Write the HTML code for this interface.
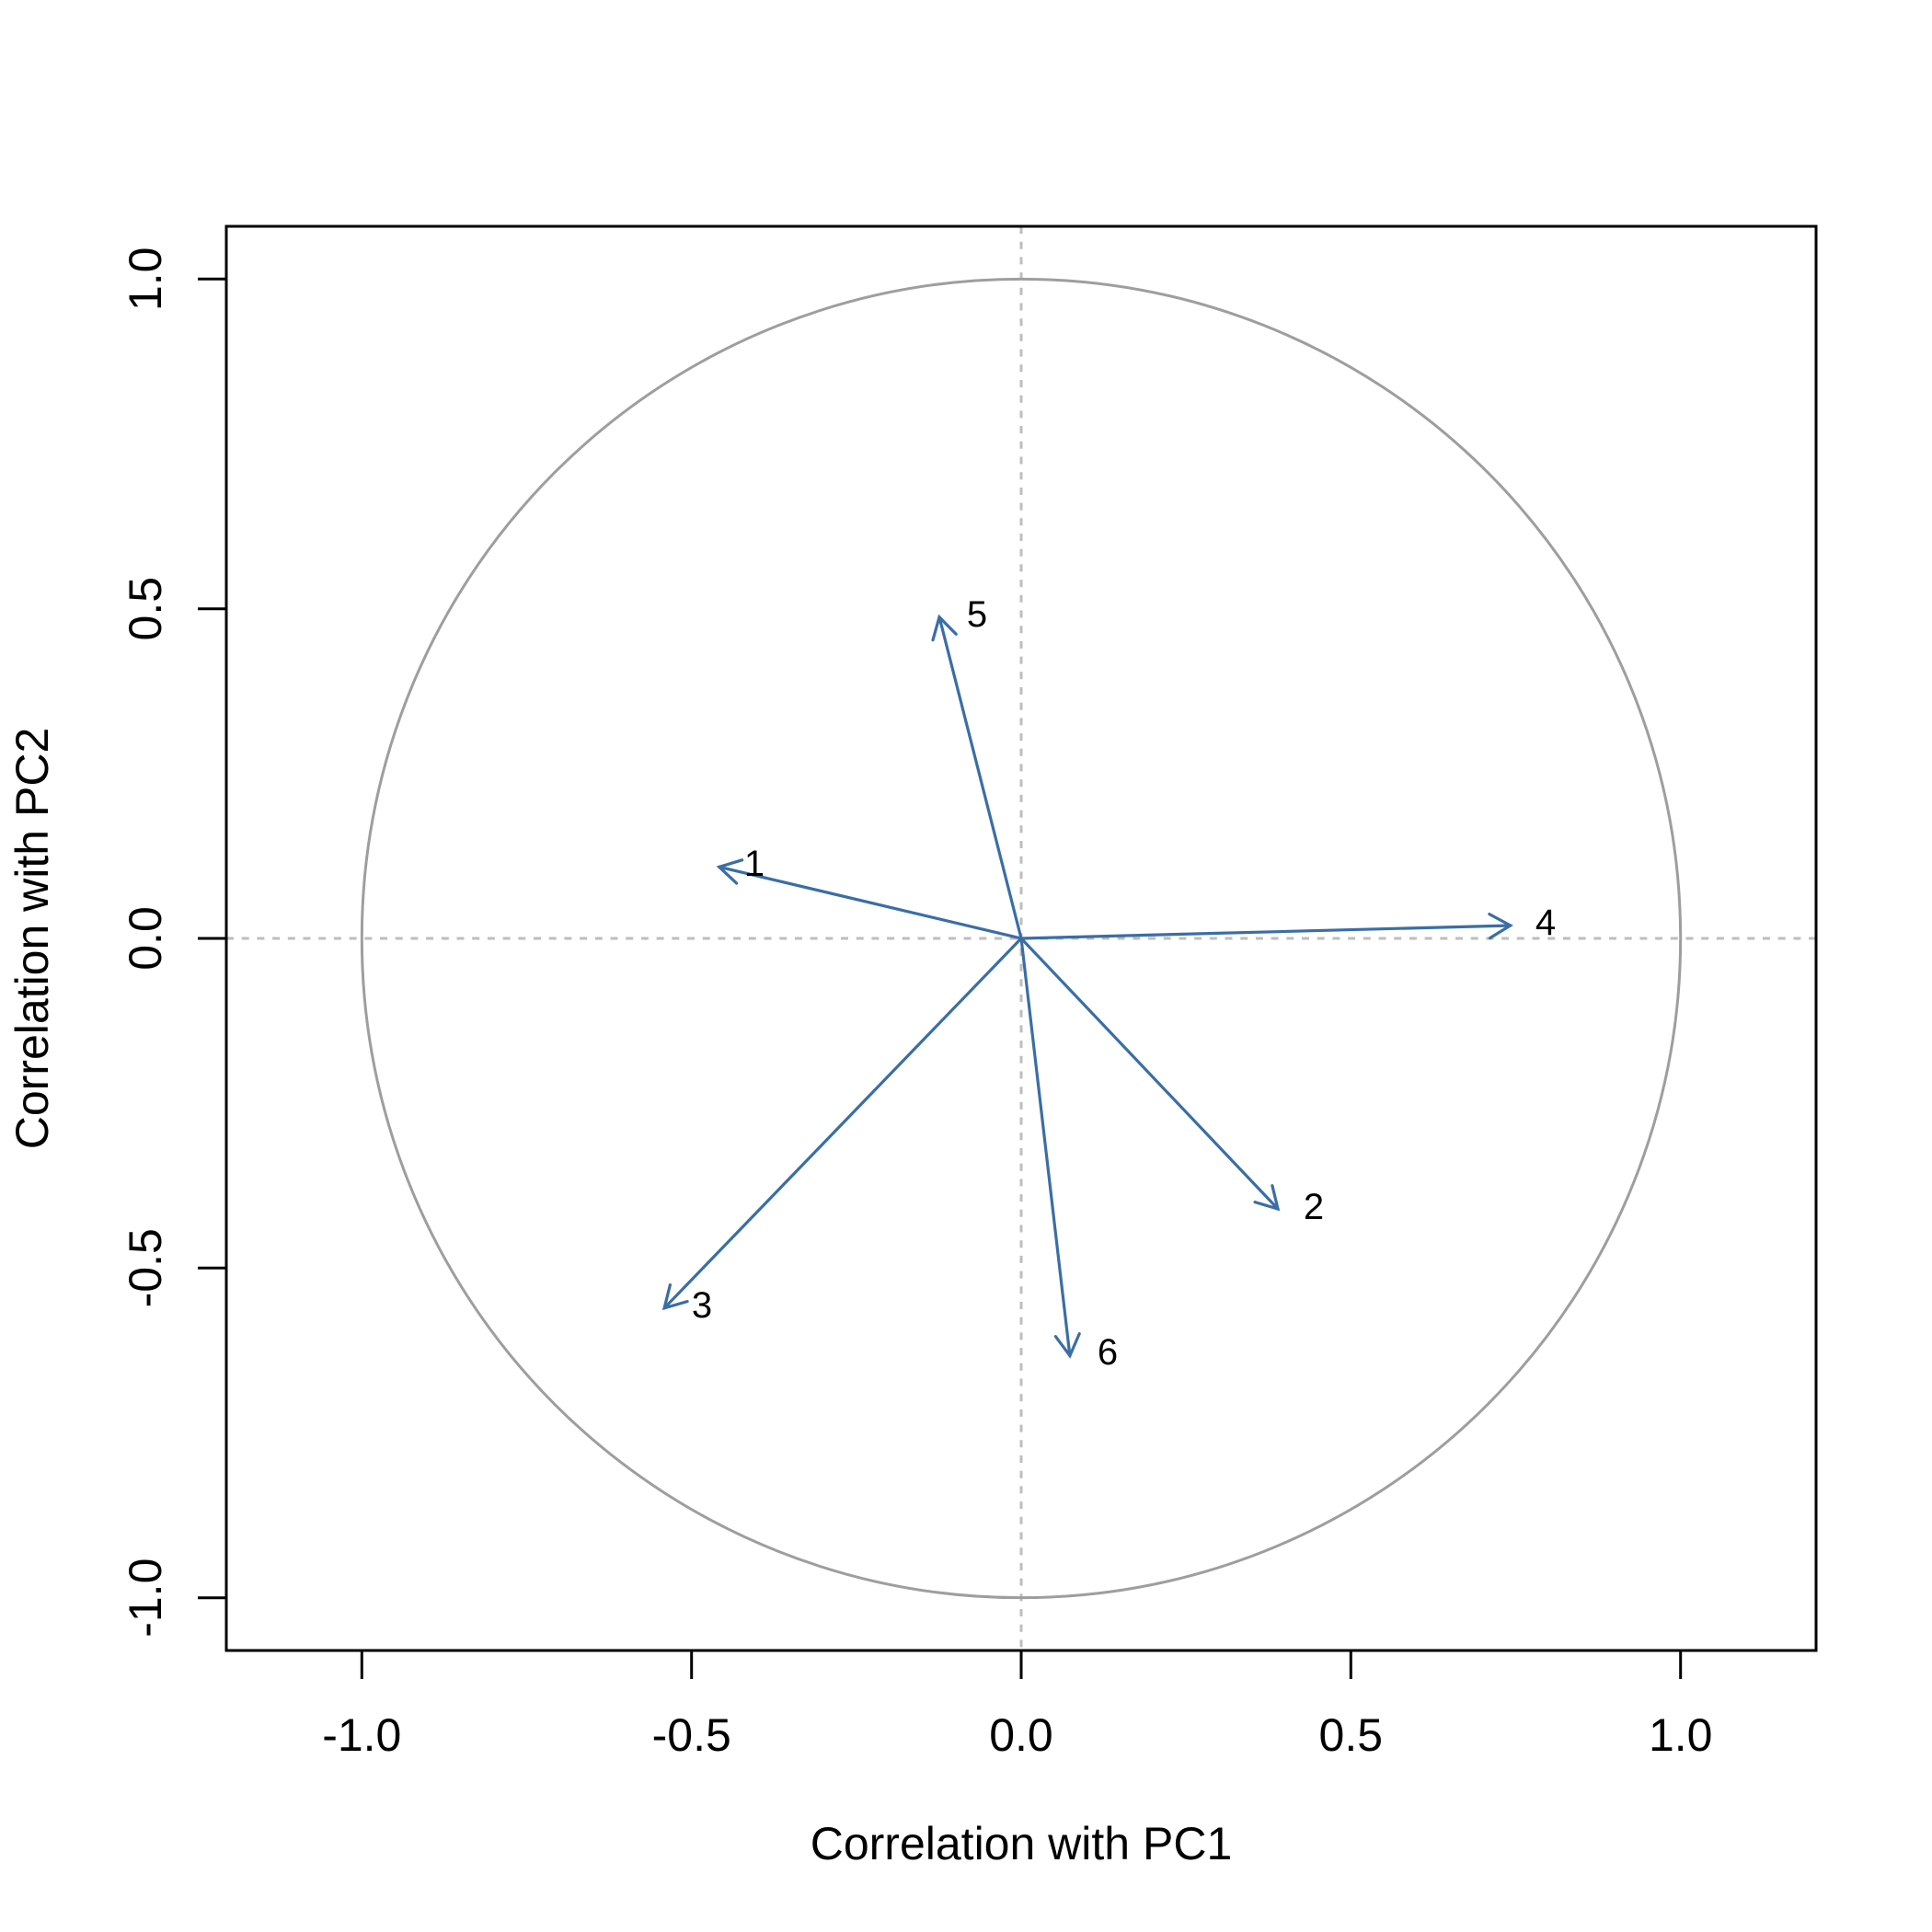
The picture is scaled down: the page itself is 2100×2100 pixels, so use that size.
<!DOCTYPE html>
<html><head><meta charset="utf-8"><style>
html,body{margin:0;padding:0;background:#fff;}
svg{display:block;}
text{font-family:"Liberation Sans",Arial,sans-serif;fill:#000;}
</style></head><body>
<svg width="2100" height="2100" viewBox="0 0 2100 2100" xmlns="http://www.w3.org/2000/svg">
<rect x="0" y="0" width="2100" height="2100" fill="#fff"/>
<!-- dashed reference lines -->
<line x1="1110" y1="246" x2="1110" y2="1794" stroke="#BEBEBE" stroke-width="3" stroke-dasharray="8 8.7"/>
<line x1="246" y1="1020" x2="1974" y2="1020" stroke="#BEBEBE" stroke-width="3" stroke-dasharray="8 8.7"/>
<!-- circle -->
<circle cx="1110" cy="1020" r="716.67" fill="none" stroke="#9E9E9E" stroke-width="3"/>
<!-- arrows -->
<g stroke="#3A6EA5" stroke-width="3.2" fill="none" stroke-linecap="round">
<line x1="1110" y1="1020" x2="781.7" y2="942.3"/>
<polyline points="800.6,960.1 781.7,942.3 806.6,934.8"/>
<line x1="1110" y1="1020" x2="1021" y2="670.7"/>
<polyline points="1014,695.7 1021,670.7 1039.2,689.3"/>
<line x1="1110" y1="1020" x2="1641.7" y2="1006"/>
<polyline points="1618.9,993.6 1641.7,1006 1619.5,1019.6"/>
<line x1="1110" y1="1020" x2="1389" y2="1314"/>
<polyline points="1382.9,1288.7 1389,1314 1364.1,1306.6"/>
<line x1="1110" y1="1020" x2="1162.9" y2="1473.6"/>
<polyline points="1173.2,1449.7 1162.9,1473.6 1147.4,1452.7"/>
<line x1="1110" y1="1020" x2="722.1" y2="1421.8"/>
<polyline points="747.1,1414.6 722.1,1421.8 728.4,1396.6"/>
</g>
<!-- arrow labels -->
<g font-size="40" text-anchor="middle">
<text x="820" y="952">1</text>
<text x="1062" y="681">5</text>
<text x="1680" y="1016">4</text>
<text x="1428" y="1325">2</text>
<text x="1204" y="1483">6</text>
<text x="763" y="1432">3</text>
</g>
<!-- box -->
<rect x="246" y="246" width="1728" height="1548" fill="none" stroke="#000" stroke-width="3"/>
<!-- x ticks -->
<g stroke="#000" stroke-width="3">
<line x1="393.3" y1="1794" x2="393.3" y2="1825"/>
<line x1="751.7" y1="1794" x2="751.7" y2="1825"/>
<line x1="1110" y1="1794" x2="1110" y2="1825"/>
<line x1="1468.3" y1="1794" x2="1468.3" y2="1825"/>
<line x1="1826.7" y1="1794" x2="1826.7" y2="1825"/>
<line x1="246" y1="303.3" x2="215" y2="303.3"/>
<line x1="246" y1="661.7" x2="215" y2="661.7"/>
<line x1="246" y1="1020" x2="215" y2="1020"/>
<line x1="246" y1="1378.3" x2="215" y2="1378.3"/>
<line x1="246" y1="1736.7" x2="215" y2="1736.7"/>
</g>
<g font-size="50" text-anchor="middle">
<text x="393.3" y="1903">-1.0</text>
<text x="751.7" y="1903">-0.5</text>
<text x="1110" y="1903">0.0</text>
<text x="1468.3" y="1903">0.5</text>
<text x="1826.7" y="1903">1.0</text>
<text transform="translate(175,303.3) rotate(-90)">1.0</text>
<text transform="translate(175,661.7) rotate(-90)">0.5</text>
<text transform="translate(175,1020) rotate(-90)">0.0</text>
<text transform="translate(175,1378.3) rotate(-90)">-0.5</text>
<text transform="translate(175,1736.7) rotate(-90)">-1.0</text>
<text x="1110" y="2021">Correlation with PC1</text>
<text transform="translate(52,1020) rotate(-90)">Correlation with PC2</text>
</g>
</svg>
</body></html>
